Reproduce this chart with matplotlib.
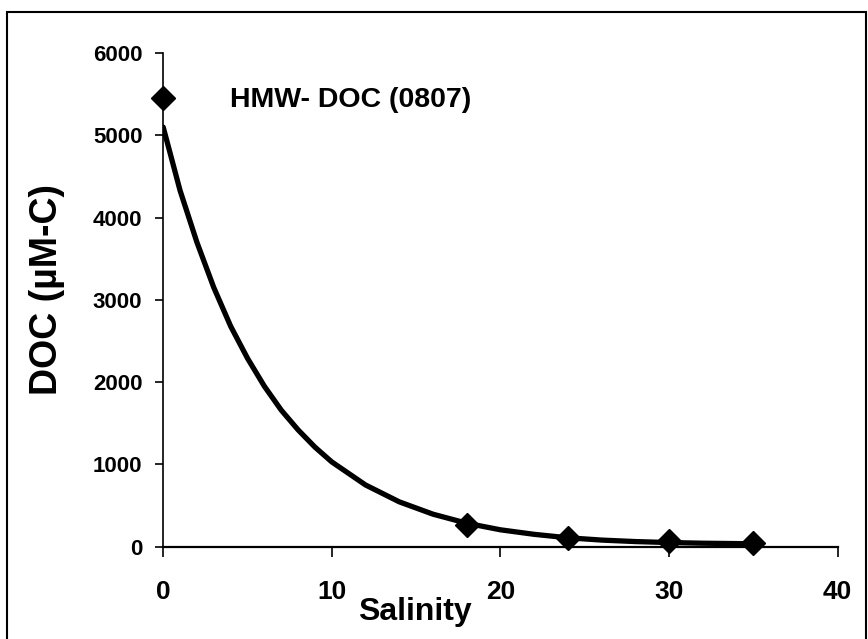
import matplotlib.pyplot as plt
from matplotlib.patches import Rectangle

plt.rcParams['font.family'] = ['Liberation Sans', 'DejaVu Sans']
plt.rcParams['font.weight'] = 'bold'

# measured HMW-DOC samples
salinity = [0, 18, 24, 30, 35]
doc = [5450, 265, 110, 65, 45]

# fitted curve
fit_x = [0, 1, 2, 3, 4, 5, 6, 7, 8, 9, 10, 12, 14, 16, 18, 20, 22, 24, 26, 28, 30, 32, 35]
fit_y = [5100, 4330, 3700, 3150, 2680, 2290, 1950, 1660, 1420, 1210, 1030, 750,
         545, 395, 285, 205, 150, 108, 80, 62, 50, 42, 35]

label = 'HMW- DOC (0807)'

fig = plt.figure(figsize=(8.68, 6.39), dpi=100, facecolor='w')
ax = fig.add_axes([0.188, 0.1445, 0.777, 0.7725])

ax.plot(fit_x, fit_y, color='black', lw=3.8, solid_capstyle='round')
ax.plot(salinity, doc, 'D', color='black', ms=12, clip_on=False, zorder=5)
ax.text(3.95, 5430, label, fontsize=20.5, fontweight='bold', va='center')

ax.set_xlim(0, 40)
ax.set_ylim(0, 6000)
ax.set_xticks([0, 10, 20, 30, 40])
ax.set_yticks(range(0, 6001, 1000))
ax.tick_params(axis='x', direction='out', length=7, width=1.2, pad=17, labelsize=19)
ax.tick_params(axis='y', direction='out', length=6, width=1.2, pad=9, labelsize=16)
for t in ax.get_xticklabels() + ax.get_yticklabels():
    t.set_fontweight('bold')

for s in ['top', 'right']:
    ax.spines[s].set_visible(False)
ax.spines['left'].set_linewidth(1.2)
ax.spines['bottom'].set_linewidth(1.6)

ax.set_xlabel('Salinity', fontsize=23, fontweight='bold')
ax.xaxis.set_label_coords(0.373, -0.101)
ax.set_ylabel('DOC (µM-C)', fontsize=27, fontweight='bold')
ax.yaxis.set_label_coords(-0.145, 0.52)

# outer frame around the chart area
fig.patches.append(Rectangle((0.008, -0.05), 0.99, 1.031, transform=fig.transFigure,
                             fill=False, edgecolor='black', lw=1.5))

fig.savefig('out.png', dpi=100)
